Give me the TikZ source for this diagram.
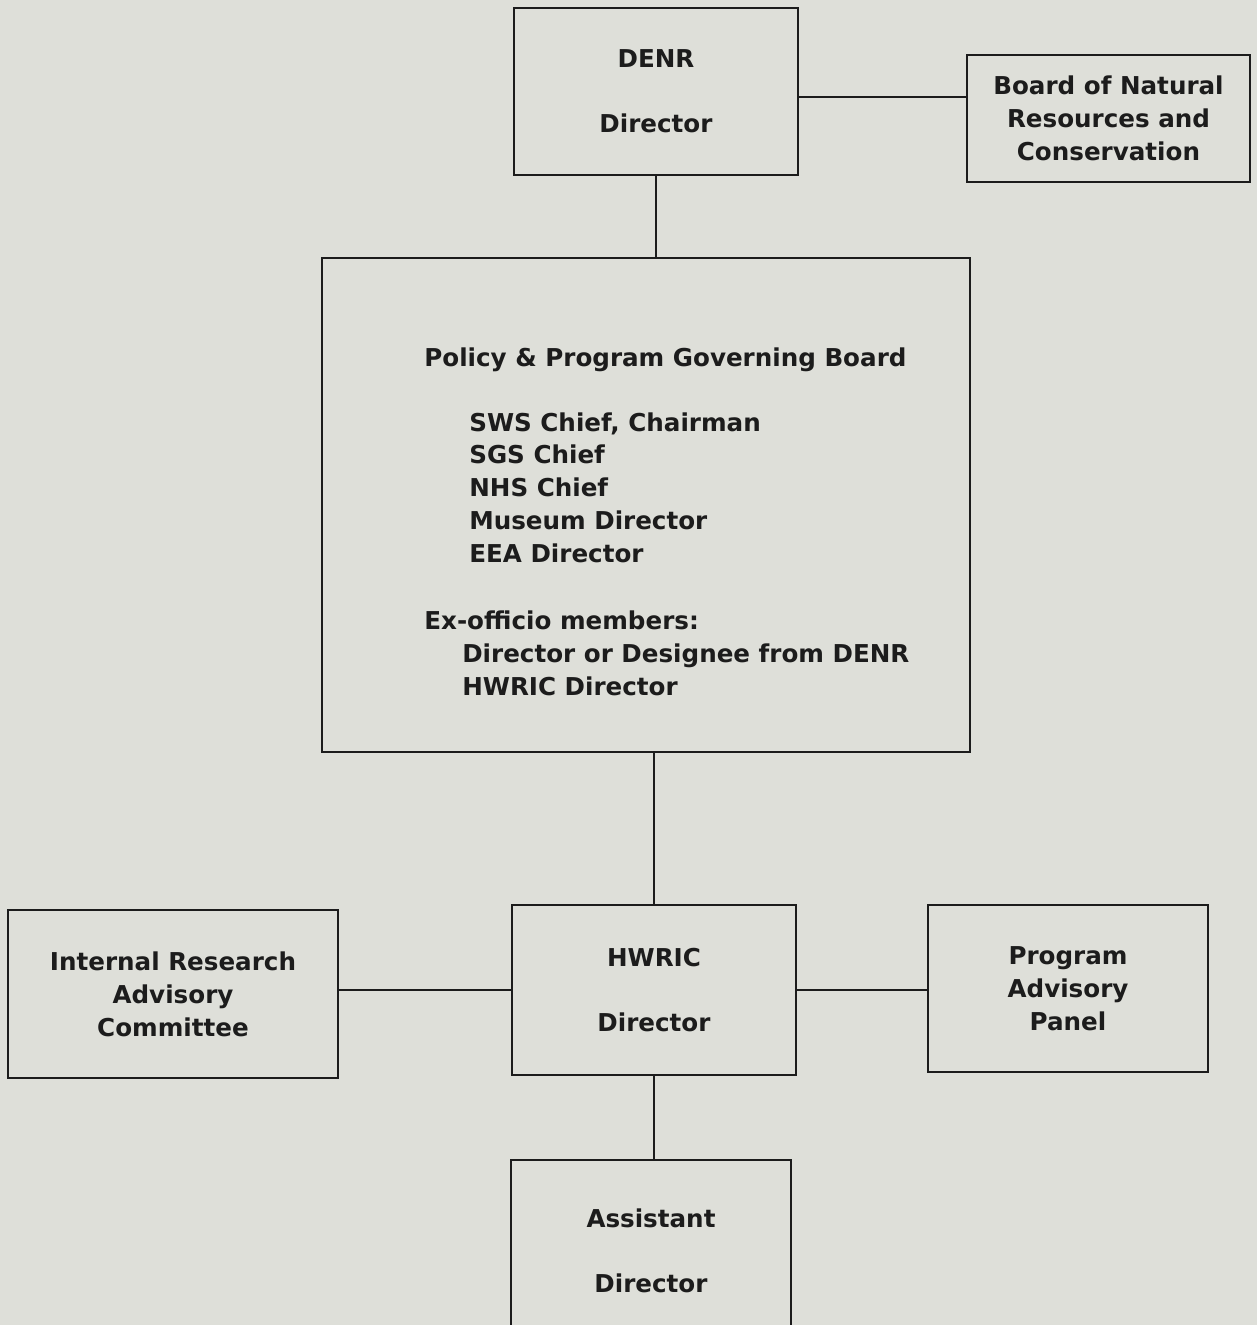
\documentclass[tikz,border=0pt]{standalone}
\usepackage{fontspec}
\setmainfont{DejaVu Sans}
\usetikzlibrary{positioning}
\definecolor{paper}{RGB}{222,223,217}
\definecolor{ink}{RGB}{28,28,28}

\begin{document}
\begin{tikzpicture}[
    x=0.02cm, y=-0.02cm,
    font=\fontsize{14}{18.7}\selectfont\bfseries,
    box/.style={draw=ink, line width=1.1pt, align=center, text=ink, inner sep=0pt},
    link/.style={draw=ink, line width=1.1pt},
    every node/.style={text=ink}
]

%% Page
\fill[paper] (0,0) rectangle (1257,1325);
\useasboundingbox (0,0) rectangle (1257,1325);

%% DENR and its board
\node[box, minimum width=5.68cm, minimum height=3.34cm] (denr) at (656,91.5)
  {DENR\\[18.3pt]Director};
\node[box, minimum width=5.66cm, minimum height=2.54cm] (board) at (1108.5,118.5)
  {Board of Natural\\Resources and\\Conservation};
\draw[link] ([yshift=-0.11cm]denr.east) coordinate (denrj) -- (denrj -| board.west);

%% Governing board
\node[box, minimum width=12.96cm, minimum height=9.88cm] (pgb) at (646,505) {};
\node[anchor=north west, inner sep=0pt, align=left] (pgbtext) at (424,347)
  {Policy \& Program Governing Board\\[18.3pt]
   \hspace*{25.6pt}SWS Chief, Chairman\\
   \hspace*{25.6pt}SGS Chief\\
   \hspace*{25.6pt}NHS Chief\\
   \hspace*{25.6pt}Museum Director\\
   \hspace*{25.6pt}EEA Director\\[19.4pt]
   Ex-officio members:\\
   \hspace*{21.6pt}Director or Designee from DENR\\
   \hspace*{21.6pt}HWRIC Director};
\draw[link] (denr.south) -- (denr.south |- pgb.north);

%% HWRIC level
\node[box, minimum width=5.68cm, minimum height=3.4cm] (hwric) at (654,990)
  {HWRIC\\[18.3pt]Director};
\node[box, minimum width=6.6cm, minimum height=3.36cm] (irac) at (173,994)
  {Internal Research\\Advisory\\Committee};
\node[box, minimum width=5.6cm, minimum height=3.34cm] (pap) at (1068,988.5)
  {Program\\Advisory\\Panel};
\draw[link] (hwric.north |- pgb.south) -- (hwric.north);
\draw[link] (hwric.west -| irac.east) -- (hwric.west);
\draw[link] (hwric.east) -- (hwric.east -| pap.west);

%% Assistant
\node[box, minimum width=5.6cm, minimum height=3.64cm] (asst) at (651,1251)
  {Assistant\\[18.3pt]Director};
\draw[link] (hwric.south) -- (hwric.south |- asst.north);

\end{tikzpicture}
\end{document}
